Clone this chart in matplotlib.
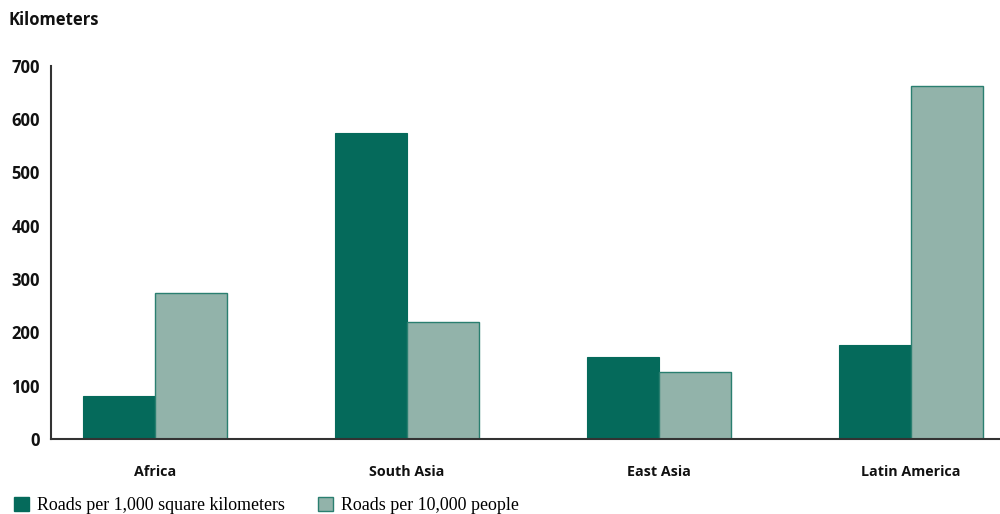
import matplotlib
matplotlib.use("Agg")
import matplotlib.pyplot as plt
import numpy as np
from matplotlib.patches import Patch

categories = ["Africa", "South Asia", "East Asia", "Latin America"]
roads_area = [81, 574, 154, 176]
roads_people = [274, 220, 126, 662]
series_labels = ["Roads per 1,000 square kilometers", "Roads per 10,000 people"]
yticks = [0, 100, 200, 300, 400, 500, 600, 700]

dark = "#056a5b"
light = "#92b3aa"
edge = "#2a7f70"

fig = plt.figure(figsize=(10, 5.14), dpi=100)
ax = fig.add_axes([0.051, 0.146, 0.949, 0.726])

x = np.arange(len(categories))
w = 0.286
ax.bar(x - w/2, roads_area, width=w, color=dark, edgecolor=dark, linewidth=0.8, zorder=2)
ax.bar(x + w/2, roads_people, width=w, color=light, edgecolor=edge, linewidth=1.0, zorder=2)

ax.set_xlim(-0.413, 3.353)
ax.set_ylim(0, 700)
ax.set_yticks(yticks)
ax.set_xticks(x)
ax.set_xticklabels(categories)
for s in ["top", "right"]:
    ax.spines[s].set_visible(False)
for s in ["left", "bottom"]:
    ax.spines[s].set_color("#333333")
    ax.spines[s].set_linewidth(1.5)
ax.tick_params(axis="both", length=0)
ax.tick_params(axis="y", pad=8)
ax.tick_params(axis="x", pad=19)
for lab in ax.get_yticklabels():
    lab.set_fontfamily("Open Sans")
    lab.set_fontweight("bold")
    lab.set_fontsize(12)
    lab.set_color("#111111")
for lab in ax.get_xticklabels():
    lab.set_fontfamily("Open Sans")
    lab.set_fontweight("bold")
    lab.set_fontsize(10.3)
    lab.set_color("#111111")

fig.text(0.009, 0.962, "Kilometers", fontfamily="Open Sans", fontweight="bold",
         fontsize=12, color="#111111", va="center", ha="left")

handles = [Patch(facecolor=dark, edgecolor=dark), Patch(facecolor=light, edgecolor=edge)]
fig.legend(handles, series_labels, loc="lower left", bbox_to_anchor=(-0.002, -0.032),
           ncol=2, frameon=False, prop={"family": "Liberation Serif", "size": 12.9},
           handlelength=0.85, handleheight=0.85, handletextpad=0.45, columnspacing=1.8)

fig.savefig("out.png", dpi=100)
